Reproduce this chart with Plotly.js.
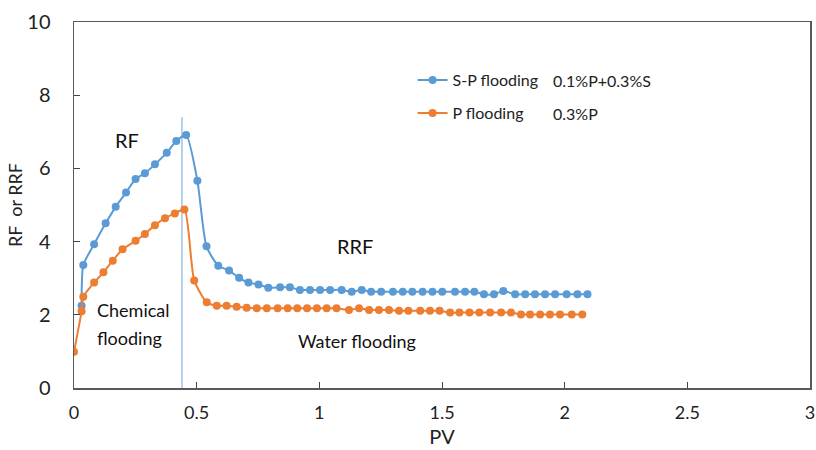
<!DOCTYPE html>
<html>
<head>
<meta charset="utf-8">
<script src="https://cdn.plot.ly/plotly-3.0.1.min.js"></script>
<style>html,body{margin:0;padding:0;background:#fff;}#chart{width:816px;height:450px;}</style>
</head>
<body>
<div id="chart"></div>
<script>
// S-P flooding (0.1%P+0.3%S)
const spPV = [0.031,0.038,0.082,0.129,0.170,0.212,0.251,0.289,0.330,0.378,0.417,0.457,0.503,0.540,0.588,0.632,0.673,0.711,0.752,0.792,0.840,0.880,0.921,0.962,1.003,1.044,1.091,1.132,1.173,1.211,1.252,1.300,1.340,1.379,1.421,1.461,1.501,1.553,1.594,1.632,1.671,1.712,1.750,1.798,1.839,1.879,1.920,1.961,2.008,2.052,2.093];
const spRF = [2.25,3.36,3.93,4.50,4.95,5.34,5.71,5.87,6.11,6.43,6.75,6.91,5.66,3.87,3.34,3.21,3.01,2.88,2.83,2.74,2.75,2.75,2.68,2.68,2.68,2.68,2.68,2.63,2.68,2.63,2.63,2.63,2.63,2.63,2.63,2.63,2.63,2.63,2.63,2.63,2.56,2.56,2.65,2.56,2.56,2.56,2.56,2.56,2.56,2.56,2.56];
// P flooding (0.3%P)
const pPV = [0.000,0.031,0.038,0.082,0.120,0.158,0.198,0.251,0.289,0.330,0.371,0.411,0.450,0.490,0.541,0.582,0.622,0.663,0.704,0.745,0.786,0.830,0.871,0.910,0.950,0.990,1.030,1.070,1.121,1.162,1.203,1.243,1.284,1.325,1.363,1.411,1.451,1.490,1.533,1.571,1.612,1.652,1.696,1.741,1.781,1.822,1.859,1.900,1.940,1.981,2.029,2.072];
const pRF = [0.99,2.10,2.49,2.88,3.16,3.48,3.79,4.02,4.21,4.45,4.64,4.77,4.88,2.94,2.34,2.25,2.25,2.22,2.19,2.18,2.18,2.18,2.18,2.18,2.18,2.18,2.18,2.18,2.13,2.18,2.13,2.13,2.13,2.11,2.11,2.11,2.11,2.11,2.06,2.06,2.06,2.06,2.06,2.06,2.06,2.01,2.01,2.01,2.01,2.01,2.01,2.01];
// boundary between chemical flooding and water flooding
const switchPV = [0.44, 0.44];
const switchY = [0, 7.4];

const xTicks = [0, 0.5, 1, 1.5, 2, 2.5, 3];
const xTickText = ['0', '0.5', '1', '1.5', '2', '2.5', '3'];
const yTicks = [0, 2, 4, 6, 8, 10];

const FONT = 'Lato, "Open Sans", sans-serif';
const BLUE = '#5B9BD5', ORANGE = '#ED7D31';

const traces = [
  {x: switchPV, y: switchY, mode: 'lines', line: {color: '#9DC3E6', width: 1.5}, showlegend: false, hoverinfo: 'skip'},
  {x: spPV, y: spRF, name: 'S-P flooding', mode: 'lines+markers', legend: 'legend',
   line: {color: BLUE, width: 2, shape: 'spline', smoothing: 0.6},
   marker: {color: BLUE, size: 8}},
  {x: pPV, y: pRF, name: 'P flooding', mode: 'lines+markers', legend: 'legend2',
   line: {color: ORANGE, width: 2, shape: 'spline', smoothing: 0.6},
   marker: {color: ORANGE, size: 8}}
];

const legendBase = {
  xanchor: 'left', yanchor: 'middle',
  bgcolor: 'rgba(0,0,0,0)', font: {size: 16, color: '#222', family: FONT},
  itemwidth: 30
};

const layout = {
  width: 816, height: 450,
  margin: {l: 74, r: 6, t: 22, b: 62},
  paper_bgcolor: '#fff', plot_bgcolor: '#fff',
  font: {family: FONT, color: '#222'},
  xaxis: {
    range: [0, 3], tickvals: xTicks, ticktext: xTickText,
    ticks: 'inside', ticklen: 6, tickcolor: '#444', tickwidth: 1,
    showline: true, linecolor: '#595959', linewidth: 1.5, mirror: true,
    showgrid: false, zeroline: false,
    tickfont: {size: 18, color: '#222', family: FONT},
    ticklabelstandoff: 8,
    title: {text: 'PV', font: {size: 20, color: '#222', family: FONT}, standoff: 8}
  },
  yaxis: {
    range: [0, 10], tickvals: yTicks,
    ticks: 'inside', ticklen: 6, tickcolor: '#444', tickwidth: 1,
    showline: true, linecolor: '#595959', linewidth: 1.5, mirror: true,
    showgrid: false, zeroline: false,
    tickfont: {size: 20, color: '#222', family: FONT},
    ticklabelstandoff: 18,
    title: {text: 'RF&nbsp;&nbsp;or&nbsp;RRF', font: {size: 18, color: '#222', family: FONT}, standoff: 0}
  },
  legend: Object.assign({x: 0.460, y: 0.8415}, legendBase),
  legend2: Object.assign({x: 0.460, y: 0.751}, legendBase),
  annotations: [
    {x: 0.648, y: 0.8415, xref: 'paper', yref: 'paper', xanchor: 'left', yanchor: 'middle', showarrow: false, text: '0.1%P+0.3%S', font: {size: 16, family: FONT, color: '#222'}},
    {x: 0.648, y: 0.751, xref: 'paper', yref: 'paper', xanchor: 'left', yanchor: 'middle', showarrow: false, text: '0.3%P', font: {size: 16, family: FONT, color: '#222'}},
    {x: 0.216, y: 6.78, xref: 'x', yref: 'y', showarrow: false, text: 'RF', font: {size: 20, family: FONT, color: '#111'}},
    {x: 1.146, y: 3.88, xref: 'x', yref: 'y', showarrow: false, text: 'RRF', font: {size: 20, family: FONT, color: '#111'}},
    {x: 0.086, y: 2.13, xref: 'x', yref: 'y', xanchor: 'left', showarrow: false, text: 'Chemical', font: {size: 18, family: FONT, color: '#111'}},
    {x: 0.086, y: 1.37, xref: 'x', yref: 'y', xanchor: 'left', showarrow: false, text: 'flooding', font: {size: 18, family: FONT, color: '#111'}},
    {x: 1.155, y: 1.28, xref: 'x', yref: 'y', showarrow: false, text: 'Water flooding', font: {size: 18, family: FONT, color: '#111'}}
  ]
};

Plotly.newPlot('chart', traces, layout, {displayModeBar: false, staticPlot: true});
</script>
</body>
</html>
